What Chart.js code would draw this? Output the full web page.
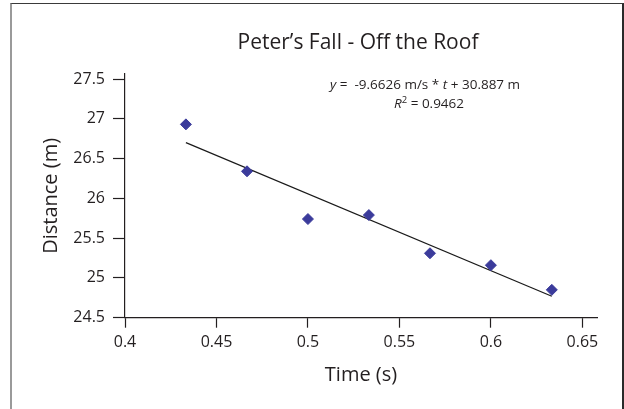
<!DOCTYPE html>
<html>
<head>
<meta charset="utf-8">
<script src="https://cdn.jsdelivr.net/npm/chart.js@4.4.0/dist/chart.umd.min.js"></script>
<style>
  html, body { margin: 0; padding: 0; background: #fff; }
  #wrap { position: relative; width: 624px; height: 409px; overflow: hidden; }
  #marco { position: absolute; left: 10px; top: 3px; width: 610px; height: 440px;
           border-left: 2px solid #9a9a9a; border-top: 1px solid #3a3a3a; border-right: 2px solid #2a2a2a;
           pointer-events: none; }
  canvas { position: absolute; left: 0; top: 0; }
</style>
</head>
<body>
<div id="wrap">
  <canvas id="graficoCaida" width="624" height="409"></canvas>
  <div id="marco"></div>
</div>
<script>
// datos
var tiempos = [0.4333, 0.4667, 0.5, 0.5333, 0.5667, 0.6, 0.6333];
var distancias = [26.93, 26.34, 25.74, 25.79, 25.31, 25.16, 24.85];
var tendTiempo = [0.4333, 0.6333];
var tendDistancia = [26.70, 24.77];
var ticksX = [0.4, 0.45, 0.5, 0.55, 0.6, 0.65];
var etiquetasX = ['0.4', '0.45', '0.5', '0.55', '0.6', '0.65'];
var ticksY = [24.5, 25, 25.5, 26, 26.5, 27, 27.5];
var etiquetasY = ['24.5', '25', '25.5', '26', '26.5', '27', '27.5'];
var titulo = 'Peter\u2019s Fall - Off the Roof';
var tituloX = 'Time (s)';
var tituloY = 'Distance (m)';
var linea1 = [{t: 'y', i: true}, {t: ' =  -9.6626 m/s * '}, {t: 't', i: true}, {t: ' + 30.887 m'}];
var linea2 = [{t: 'R', i: true}, {t: '2', sup: true}, {t: ' = 0.9462'}];
var ecX = 0.564;
var ecY = 27.37;

var colorTexto = '#231f20';
var fam = '"Open Sans", "Noto Sans", sans-serif';

function fuente(p, size) {
  var s = p.sup ? size * 0.7 : size;
  return (p.i ? 'italic ' : '') + s + 'px ' + fam;
}

function pintarLinea(ctx, partes, cx, y, size) {
  var total = 0;
  partes.forEach(function(p) { ctx.font = fuente(p, size); total += ctx.measureText(p.t).width; });
  var x = cx - total / 2;
  partes.forEach(function(p) {
    ctx.font = fuente(p, size);
    ctx.fillText(p.t, x, p.sup ? y - size * 0.4 : y);
    x += ctx.measureText(p.t).width;
  });
}

var textos = {
  id: 'textos',
  afterDraw: function(chart) {
    var ctx = chart.ctx;
    var area = chart.chartArea;
    ctx.save();
    ctx.fillStyle = colorTexto;
    ctx.textBaseline = 'alphabetic';
    ctx.textAlign = 'center';
    ctx.font = '21px ' + fam;
    ctx.fillText(titulo, (area.left + area.right) / 2 - 3, area.top - 25);

    ctx.textAlign = 'left';
    var px = chart.scales.x.getPixelForValue(ecX);
    var py = chart.scales.y.getPixelForValue(ecY);
    pintarLinea(ctx, linea1, px, py, 13.5);
    pintarLinea(ctx, linea2, px + 4, py + 19, 13.5);
    ctx.restore();
  }
};

var puntos = tiempos.map(function(t, i) { return {x: t, y: distancias[i]}; });
var tendencia = tendTiempo.map(function(t, i) { return {x: t, y: tendDistancia[i]}; });

var contexto = document.getElementById('graficoCaida').getContext('2d');
var myChart = new Chart(contexto, {
  type: 'scatter',
  data: {
    datasets: [{
      label: 'Distance',
      data: puntos,
      pointStyle: 'rectRot',
      pointRadius: 5.5,
      backgroundColor: '#3b3b9b',
      borderColor: '#3b3b9b',
      borderWidth: 1,
      order: 0
    }, {
      label: 'Linear',
      type: 'line',
      data: tendencia,
      borderColor: '#1a1a1a',
      borderWidth: 1.2,
      pointRadius: 0,
      fill: false,
      order: 1
    }]
  },
  options: {
    responsive: false,
    animation: false,
    devicePixelRatio: 1,
    layout: { padding: { left: 0, top: 74, right: 27, bottom: 0 } },
    plugins: {
      legend: { display: false },
      title: { display: false },
      tooltip: { enabled: false }
    },
    scales: {
      x: {
        type: 'linear',
        min: 0.4,
        max: 0.658,
        afterFit: function(s) { s.height = 91.3; },
        afterBuildTicks: function(s) { s.ticks = ticksX.map(function(v) { return {value: v}; }); },
        ticks: {
          callback: function(v) { return etiquetasX[ticksX.indexOf(v)]; },
          font: { family: fam, size: 16 },
          color: colorTexto,
          padding: 5,
          maxRotation: 0,
          autoSkip: false
        },
        grid: { drawOnChartArea: false, drawTicks: true, tickLength: 10, tickColor: colorTexto, tickWidth: 1.2 },
        border: { color: colorTexto, width: 1.2 },
        title: { display: true, text: tituloX, font: { family: fam, size: 20 }, color: colorTexto, padding: { top: 0, bottom: 22 } }
      },
      y: {
        type: 'linear',
        min: 24.5,
        max: 27.563,
        afterFit: function(s) { s.width = 125; },
        afterBuildTicks: function(s) { s.ticks = ticksY.map(function(v) { return {value: v}; }); },
        ticks: {
          callback: function(v) { return etiquetasY[ticksY.indexOf(v)]; },
          font: { family: fam, size: 16 },
          color: colorTexto,
          padding: 8,
          autoSkip: false
        },
        grid: { drawOnChartArea: false, drawTicks: true, tickLength: 12, tickColor: colorTexto, tickWidth: 1.2 },
        border: { color: colorTexto, width: 1.2 },
        title: { display: true, text: tituloY, font: { family: fam, size: 20 }, color: colorTexto, padding: { top: 39, bottom: 0 } }
      }
    }
  },
  plugins: [textos]
});
</script>
</body>
</html>
